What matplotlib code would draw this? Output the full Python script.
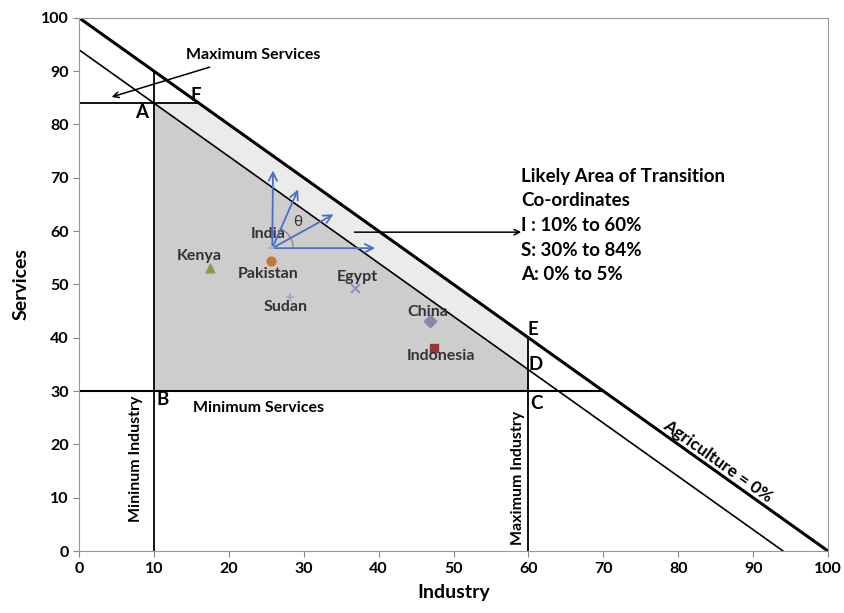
import numpy as np
import matplotlib.pyplot as plt
from matplotlib.patches import Polygon, Arc

plt.rcParams['font.family'] = ['Lato', 'DejaVu Sans']

# country positions (industry %, services %)
countries = ['Kenya', 'Pakistan', 'Sudan', 'Egypt', 'China', 'Indonesia', 'India']
industry = [17.5, 25.6, 28.2, 36.8, 46.9, 47.4, 25.8]
services = [53.1, 54.4, 47.7, 49.3, 43.2, 38.1, 56.8]
markers = ['^', 'o', '+', 'x', 'D', 's', '_']
mcolors = ['#8a9c48', '#c47a35', '#a6aed0', '#8e93b8', '#8a86b0', '#953735', '#a6aed0']
label_xy = [(16, 55.3), (25.2, 52.0), (27.6, 45.8), (37.1, 51.4), (46.6, 44.8), (48.3, 36.6), (25.2, 59.5)]

# boundary lines
agri0_x = [0, 100]
agri0_y = [100, 0]
agri6_x = [0, 94]
agri6_y = [94, 0]
min_ind, max_ind = 10, 60
min_serv, max_serv = 30, 84

# shaded region corners
outer_region = [(10, 84), (16, 84), (60, 40), (60, 30), (10, 30)]
inner_region = [(10, 84), (60, 34), (60, 30), (10, 30)]

# direction arrows from India
arrow_ends_x = [25.9, 29.4, 34.3, 39.9]
arrow_ends_y = [71.9, 68.3, 63.4, 56.8]

fig = plt.figure(figsize=(8.45, 6.13), dpi=100)
ax = fig.add_axes([0.0935, 0.101, 0.8865, 0.87])

ax.add_patch(Polygon(outer_region, closed=True, facecolor='#ebebeb', edgecolor='none', zorder=0))
ax.add_patch(Polygon(inner_region, closed=True, facecolor='#cdcdcd', edgecolor='none', zorder=0))

ax.plot(agri0_x, agri0_y, color='black', lw=2.2)
ax.plot(agri6_x, agri6_y, color='black', lw=1.2)
ax.plot([0, 16], [max_serv, max_serv], color='black', lw=1.3)
ax.plot([0, 70], [min_serv, min_serv], color='black', lw=1.5)
ax.plot([min_ind, min_ind], [0, 90], color='black', lw=1.3)
ax.plot([max_ind, max_ind], [0, 40], color='black', lw=1.3)

for name, x, y, m, c, (lx, ly) in zip(countries, industry, services, markers, mcolors, label_xy):
    ax.scatter(x, y, marker=m, color=c, s=40, zorder=3)
    ax.text(lx, ly, name, ha='center', va='center', fontsize=11.5, fontweight='bold', color='#333333')

ox, oy = industry[-1], services[-1]
for ex, ey in zip(arrow_ends_x, arrow_ends_y):
    ax.annotate('', xy=(ex, ey), xytext=(ox, oy),
                arrowprops=dict(arrowstyle='->', color='#4a6fc4', lw=1.3, mutation_scale=15), zorder=4)
ax.add_patch(Arc((ox, oy), 5.6, 7.9, theta1=0, theta2=75, color='#888888', lw=0.9))
ax.text(29.2, 61.7, 'θ', ha='center', va='center', fontsize=11, color='#333333')

# corner letters
for s, x, y in [('A', 8.3, 82.2), ('F', 15.6, 85.4), ('B', 11.1, 28.5),
                ('C', 61.1, 27.6), ('D', 61.0, 35.0), ('E', 60.6, 41.6)]:
    ax.text(x, y, s, ha='center', va='center', fontsize=13.5, fontweight='bold')

ax.annotate('', xy=(4.0, 85.0), xytext=(17.8, 90.9),
            arrowprops=dict(arrowstyle='->', color='black', lw=1.1))
ax.text(23.2, 93.0, 'Maximum Services', ha='center', va='center', fontsize=11.5, fontweight='bold')
ax.text(23.9, 26.8, 'Minimum Services', ha='center', va='center', fontsize=11.5, fontweight='bold')
ax.text(7.6, 17.3, 'Mininum Industry', ha='center', va='center', fontsize=11.5, fontweight='bold', rotation=90)
ax.text(58.6, 13.7, 'Maximum Industry', ha='center', va='center', fontsize=11.5, fontweight='bold', rotation=90)
ax.text(85.3, 16.9, 'Agriculture = 0%', ha='center', va='center', fontsize=12.5, fontweight='bold', rotation=-35.4)

ax.annotate('', xy=(59.4, 59.8), xytext=(36.4, 59.8),
            arrowprops=dict(arrowstyle='->', color='black', lw=1.1))
ax.text(59.0, 71.9, 'Likely Area of Transition\nCo-ordinates\nI : 10% to 60%\nS: 30% to 84%\nA: 0% to 5%',
        ha='left', va='top', fontsize=13.5, fontweight='bold', linespacing=1.55)

ax.set_xlim(0, 100)
ax.set_ylim(0, 100)
ax.set_xticks(np.arange(0, 101, 10))
ax.set_yticks(np.arange(0, 101, 10))
ax.tick_params(colors='#888888', labelcolor='black', labelsize=11.5, length=4)
for lab in ax.get_xticklabels() + ax.get_yticklabels():
    lab.set_fontweight('bold')
for sp in ax.spines.values():
    sp.set_color('#999999')
ax.set_xlabel('Industry', fontsize=14, fontweight='bold', labelpad=6)
ax.set_ylabel('Services', fontsize=14, fontweight='bold', labelpad=8)

fig.savefig('out.png')
